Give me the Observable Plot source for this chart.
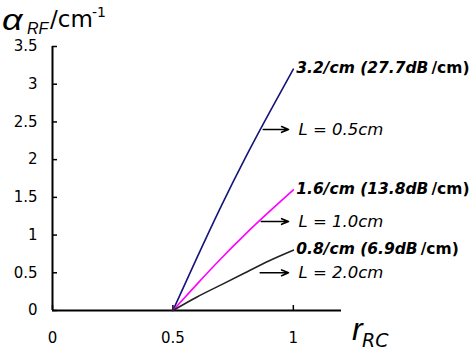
<!DOCTYPE html>
<html><head><meta charset="utf-8">
<script src="https://cdn.jsdelivr.net/npm/d3@7"></script>
<script src="https://cdn.jsdelivr.net/npm/@observablehq/plot@0.6"></script>
<style>
html,body{margin:0;padding:0;background:#fff;}
#wrap{position:relative;width:474px;height:352px;font-family:"Liberation Sans",Arial,sans-serif;color:#000;}
.ov{position:absolute;white-space:nowrap;line-height:1;}
</style></head><body>
<div id="wrap"></div>
<script>
// r_RC sample points
const rRC = [0.5, 0.6, 0.7, 0.8, 0.9, 1.0];
// alpha_RF (/cm) for each device length
const alphaL05 = [0, 0.70, 1.38, 2.02, 2.62, 3.2];
const alphaL10 = [0, 0.35, 0.69, 1.01, 1.31, 1.6];
const alphaL20 = [0, 0.18, 0.34, 0.50, 0.66, 0.8];
const seriesNames = ["L = 0.5cm", "L = 1.0cm", "L = 2.0cm"];
const seriesColors = ["#14147a", "#ff00ff", "#222222"];
const endLabels = ["3.2/cm (27.7dB", "1.6/cm (13.8dB", "0.8/cm (6.9dB"];
const endUnit = "/cm)";
// annotation arrows (data units)
const arrowY = [2.4, 1.18, 0.5];
const arrowX1 = [0.875, 0.867, 0.8625];
const arrowX2 = [0.98, 0.98, 0.98];
const xTicks = [0, 0.5, 1];
const yTicks = [0, 0.5, 1, 1.5, 2, 2.5, 3, 3.5];

const allSeries = [alphaL05, alphaL10, alphaL20];
const rows = [];
allSeries.forEach((vals, i) => vals.forEach((v, j) => rows.push({r: rRC[j], alpha: v, s: seriesNames[i]})));
const ends = allSeries.map((vals, i) => ({r: rRC[rRC.length - 1], alpha: vals[vals.length - 1], label: endLabels[i]}));
const arrows = seriesNames.map((n, i) => ({name: n, y: arrowY[i], x1: arrowX1[i], x2: arrowX2[i]}));

const fmt = d => String(d);
const plot = Plot.plot({
  width: 474, height: 352,
  marginLeft: 52, marginRight: 133, marginTop: 46, marginBottom: 42,
  x: {domain: [0, 1.2]},
  y: {domain: [0, 3.5]},
  color: {domain: seriesNames, range: seriesColors},
  style: {fontFamily: '"DejaVu Sans", sans-serif', fontSize: "15px", color: "#000", background: "#fff", overflow: "visible"},
  marks: [
    Plot.axisY(yTicks, {tickSize: -5, tickPadding: 20, fontSize: 15, strokeWidth: 1.5, tickFormat: fmt, label: null}),
    Plot.axisX(xTicks, {tickSize: -5, tickPadding: 27, fontSize: 15, strokeWidth: 1.5, tickFormat: fmt, label: null}),
    Plot.ruleY([0], {stroke: "#000", strokeWidth: 2}),
    Plot.ruleX([0], {stroke: "#000", strokeWidth: 2}),
    Plot.line(rows, {x: "r", y: "alpha", z: "s", stroke: "s", strokeWidth: 1.6, curve: "natural"}),
    Plot.arrow(arrows, {x1: "x1", x2: "x2", y1: "y", y2: "y", stroke: "#000", strokeWidth: 1.6, headLength: 7, headAngle: 45}),
    Plot.text(arrows, {x: "x2", y: "y", text: "name", textAnchor: "start", dx: 10, fontStyle: "italic", fontSize: 16.5}),
    Plot.text(ends, {x: "r", y: "alpha", text: "label", textAnchor: "start", dx: 3, dy: -1, fontWeight: "bold", fontStyle: "italic", fontSize: 15.5, className: "endlab"})
  ]
});

// append the upright unit part to the end labels
d3.select(plot).selectAll(".endlab text").each(function() {
  d3.select(this).append("tspan").attr("dx", 3).attr("font-style", "normal").text(endUnit);
});

const wrap = document.getElementById("wrap");
wrap.appendChild(plot);
wrap.insertAdjacentHTML("beforeend", `
<span class="ov" style="left:2px;top:14px;line-height:12px;font-size:30px;font-style:italic;transform:scaleX(1.2);transform-origin:left top">α</span>
<span class="ov" style="left:27px;top:24px;line-height:10px;font-size:16px;font-style:italic">RF</span>
<span class="ov" style="left:50px;top:8px;font-size:23px;font-family:'DejaVu Sans',sans-serif">/cm</span>
<span class="ov" style="left:92px;top:5px;font-size:14px;font-family:'DejaVu Sans',sans-serif">-1</span>
<span class="ov" style="left:352px;top:313px;font-size:32px;font-style:italic">r</span>
<span class="ov" style="left:362px;top:331px;font-size:19px;font-style:italic;font-family:'DejaVu Sans',sans-serif">RC</span>
`);
</script>
</body></html>
